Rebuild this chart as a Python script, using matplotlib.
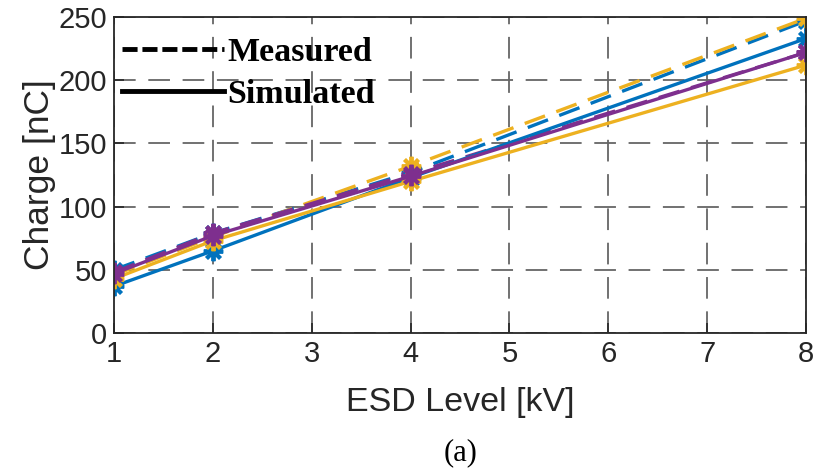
import numpy as np
import matplotlib
matplotlib.use("Agg")
import matplotlib.pyplot as plt
from matplotlib.lines import Line2D

# ── Data ───────────────────────────────────────────────────────────────────────
esd_kv = [1, 2, 4, 8]

meas_blue   = [50, 79, 127, 247]
meas_yellow = [46, 76, 132, 249]
meas_purple = [48, 79, 126, 222]

sim_blue    = [37, 65, 123, 233]
sim_yellow  = [43, 73, 120, 212]
sim_purple  = [47, 77, 124, 222]

x_ticks = [1, 2, 3, 4, 5, 6, 7, 8]
y_ticks = [0, 50, 100, 150, 200, 250]

BLUE   = "#0072BD"
YELLOW = "#EDB120"
PURPLE = "#7E2F8E"
INK    = "#262626"

STAR = (8, 2, 0)   # asterisk marker

# ── Plot ───────────────────────────────────────────────────────────────────────
fig = plt.figure(figsize=(8.15, 4.73), dpi=100)
ax = fig.add_axes([0.140, 0.296, 0.849, 0.668])

style = dict(lw=2.4, marker=STAR, ms=14, mew=2.8)
dash = (0, (6.5, 3.6))

ax.plot(esd_kv, meas_blue,   color=BLUE,   ls=dash, **style)
ax.plot(esd_kv, meas_yellow, color=YELLOW, ls=dash, **style)
ax.plot(esd_kv, meas_purple, color=PURPLE, ls=dash, **style)
ax.plot(esd_kv, sim_blue,    color=BLUE,   ls="-", **style)
ax.plot(esd_kv, sim_yellow,  color=YELLOW, ls="-", **style)
ax.plot(esd_kv, sim_purple,  color=PURPLE, ls="-", **style)

ax.set_xlim(1, 8)
ax.set_ylim(0, 250)
ax.set_xticks(x_ticks)
ax.set_yticks(y_ticks)

tick_font = dict(family="Liberation Sans", size=21)
ax.set_xticklabels([str(v) for v in x_ticks], fontdict=tick_font, color=INK)
ax.set_yticklabels([str(v) for v in y_ticks], fontdict=tick_font, color=INK)
ax.tick_params(direction="in", length=7, width=1.2, colors=INK, pad=5,
               top=False, right=False)

ax.grid(True, color="#666666", lw=1.3, ls=(0, (12, 7)))
ax.set_axisbelow(True)
for sp in ax.spines.values():
    sp.set_color(INK)
    sp.set_linewidth(1.3)

ax.set_xlabel("ESD Level [kV]", family="Liberation Sans", size=24.5, color=INK,
              labelpad=14)
ax.set_ylabel("Charge [nC]", family="Liberation Sans", size=25.5, color=INK,
              labelpad=2)

# line-style key
handles = [Line2D([], [], color="black", lw=3.5, ls=(0, (3.1, 1.0))),
           Line2D([], [], color="black", lw=3.5, ls="-")]
ax.legend(handles, ["Measured", "Simulated"], loc="upper left",
          bbox_to_anchor=(0.004, 0.953), frameon=False,
          handlelength=3.0, handletextpad=0.1,
          borderpad=0.15, borderaxespad=0.0, labelspacing=0.32,
          prop=dict(family="Liberation Serif", weight="bold", size=24.5))

fig.text(0.565, 0.012, "(a)", family="Liberation Serif", size=22,
         ha="center", va="bottom", color="black")

fig.savefig("out.png", dpi=100)
